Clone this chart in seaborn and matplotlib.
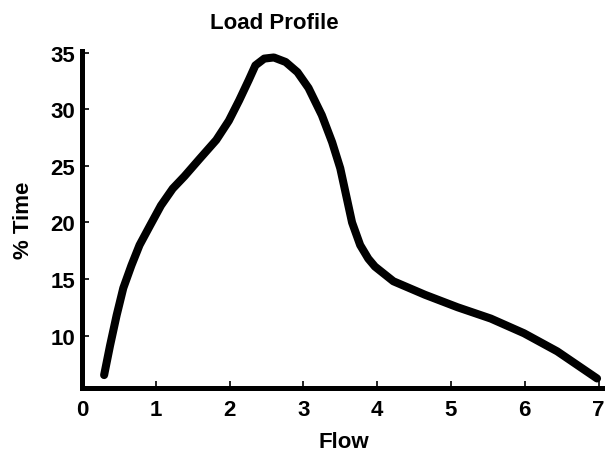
import matplotlib
matplotlib.use("Agg")
import matplotlib.pyplot as plt
import seaborn as sns
import pandas as pd

# Load profile: share of operating time at each flow rate
flow = [0.30, 0.38, 0.47, 0.56, 0.67, 0.78, 0.92, 1.07, 1.23, 1.39, 1.59,
        1.82, 1.99, 2.13, 2.26, 2.35, 2.47, 2.60, 2.76, 2.92, 3.07, 3.25,
        3.39, 3.50, 3.59, 3.66, 3.77, 3.88, 3.97, 4.22, 4.65, 5.09, 5.54,
        5.99, 6.44, 6.98]
pct_time = [6.5, 9.1, 11.8, 14.2, 16.2, 18.0, 19.7, 21.5, 23.0, 24.1, 25.6,
            27.3, 29.0, 30.8, 32.6, 33.9, 34.5, 34.6, 34.2, 33.3, 31.9, 29.5,
            27.1, 24.8, 22.1, 20.0, 18.0, 16.8, 16.1, 14.8, 13.6, 12.5, 11.5,
            10.2, 8.6, 6.2]
x_ticks = [0, 1, 2, 3, 4, 5, 6, 7]
y_ticks = [10, 15, 20, 25, 30, 35]

df = pd.DataFrame({"Flow": flow, "% Time": pct_time})

sns.set_style("ticks")
plt.rcParams["font.family"] = ["Liberation Sans", "DejaVu Sans"]
plt.rcParams["font.weight"] = "bold"
plt.rcParams["text.color"] = "black"
plt.rcParams["axes.labelcolor"] = "black"
plt.rcParams["xtick.color"] = "black"
plt.rcParams["ytick.color"] = "black"

fig = plt.figure(figsize=(6.05, 4.64), dpi=100)
ax = fig.add_axes([0.1355, 0.1627, 0.866, 0.7259])

sns.lineplot(data=df, x="Flow", y="% Time", ax=ax, color="black",
             linewidth=5.8, solid_capstyle="round", solid_joinstyle="round",
             estimator=None, sort=False)

ax.set_xlim(0, 7.10)
ax.set_ylim(5.4, 35.2)
ax.set_xticks(x_ticks)
ax.set_yticks(y_ticks)
ax.set_xticklabels([str(v) for v in x_ticks], fontsize=16, fontweight="bold",
                   color="black")
ax.set_yticklabels([str(v) for v in y_ticks], fontsize=16, fontweight="bold",
                   color="black")

for side in ("top", "right"):
    ax.spines[side].set_visible(False)
for side in ("left", "bottom"):
    ax.spines[side].set_linewidth(3.6)
    ax.spines[side].set_color("black")
    ax.spines[side].set_capstyle("projecting")

ax.tick_params(axis="both", direction="in", length=5, width=1.2,
               colors="black", pad=5)
ax.tick_params(axis="x", pad=8)

ax.set_xlabel("Flow", fontsize=16, fontweight="bold", labelpad=8, color="black")
ax.set_ylabel("% Time", fontsize=16, fontweight="bold", labelpad=12, color="black")
ax.set_title("Load Profile", fontsize=16, fontweight="bold", pad=16, x=0.368,
             color="black")

fig.savefig("out.png", dpi=100, facecolor="white")
